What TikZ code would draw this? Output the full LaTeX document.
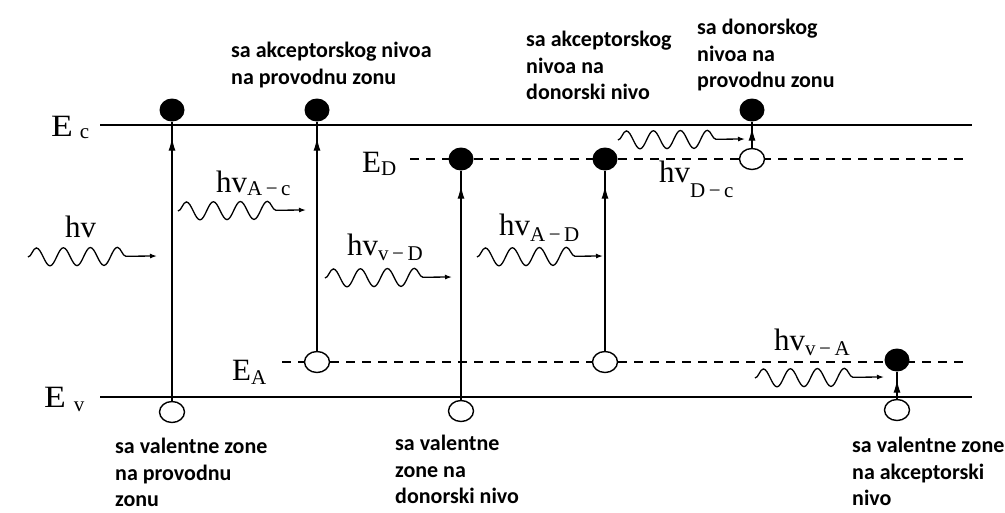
\documentclass[tikz,border=0pt]{standalone}
\usepackage{fontspec}
\setmainfont{Liberation Serif}
\newfontfamily\labfont{Carlito}
\usetikzlibrary{arrows.meta,decorations.pathmorphing,decorations.markings,shapes.geometric}
\begin{document}
\begin{tikzpicture}[x=1pt,y=-1pt,
  band/.style={line width=1.8pt},
  level/.style={line width=1.4pt, dash pattern=on 9pt off 7pt},
  elec/.style={ellipse, fill=black, minimum width=25pt, minimum height=23pt, inner sep=0pt},
  hole/.style={ellipse, draw=black, fill=white, line width=1.4pt, minimum width=25pt, minimum height=21pt, inner sep=0pt},
  trans/.style={line width=1.3pt, postaction={decorate}, decoration={markings, mark=at position #1 with {\arrow{Latex[length=13pt,width=7pt]}}}},
  photon/.style={line width=1.3pt, decorate, decoration={snake, segment length=27pt, amplitude=9pt, post length=18pt}, -{Latex[length=7pt,width=5pt]}},
  desc/.style={anchor=north west, inner sep=0pt, align=left, font=\labfont\bfseries\fontsize{22}{26.5}\selectfont},
  sym/.style={anchor=base west, inner sep=0pt, font=\fontsize{31}{31}\selectfont},
]
\useasboundingbox (0,0) rectangle (1005,512);

% band edges and levels
\coordinate (ecL) at (100,125); \coordinate (ecR) at (972,125);
\coordinate (evL) at (100,397); \coordinate (evR) at (972,397);
\coordinate (edL) at (410,159); \coordinate (edR) at (966,159);
\coordinate (eaL) at (282,362); \coordinate (eaR) at (967,362);
\draw[band] (ecL) -- (ecR);
\draw[band] (evL) -- (evR);
\draw[level] (edL) -- (edR);
\draw[level] (eaL) -- (eaR);

% level labels
\node[sym] (lEc) at (51,136) {\scalebox{1.15}[1]{E}\hspace{7pt}\raisebox{-2pt}{\fontsize{21}{21}\selectfont c}};
\node[sym] (lEv) at (44,407) {\scalebox{1.15}[1]{E}\hspace{8pt}\raisebox{-4pt}{\fontsize{21}{21}\selectfont v}};
\node[sym] (lED) at (362,172) {E\raisebox{-3pt}{\fontsize{21}{21}\selectfont D}};
\node[sym] (lEA) at (232,380) {E\raisebox{-4pt}{\fontsize{21}{21}\selectfont A}};

% electrons and holes
\node[elec] (f1) at (172,110) {};
\node[hole] (h1) at (172,412) {};
\node[elec] (f2) at (317,110) {};
\node[hole] (h2) at (317,362) {};
\node[elec] (f3) at (461,159) {};
\node[hole] (h3) at (461,411) {};
\node[elec] (f4) at (605,159) {};
\node[hole] (h4) at (605,362) {};
\node[elec] (f5) at (752,110) {};
\node[hole] (h5) at (752,159) {};
\node[elec] (f6) at (897,360) {};
\node[hole] (h6) at (897,410) {};

% transitions
\draw[trans=-16pt] (h1) -- (f1);
\draw[trans=-16pt] (h2) -- (f2);
\draw[trans=-15pt] (h3) -- (f3);
\draw[trans=-15pt] (h4) -- (f4);
\draw[trans=-6pt] (h5) -- (f5);
\draw[trans=-8pt] (h6) -- (f6);

% photons
\coordinate (p1s) at (28,257);  \coordinate (p1e) at (157,256);
\coordinate (p2s) at (178,211); \coordinate (p2e) at (306,210);
\coordinate (p3s) at (325,278); \coordinate (p3e) at (452,277);
\coordinate (p4s) at (477,257); \coordinate (p4e) at (603,256);
\coordinate (p5s) at (618,140); \coordinate (p5e) at (745,139);
\coordinate (p6s) at (755,378); \coordinate (p6e) at (884,377);
\draw[photon] (p1s) -- (p1e);
\draw[photon] (p2s) -- (p2e);
\draw[photon] (p3s) -- (p3e);
\draw[photon] (p4s) -- (p4e);
\draw[photon] (p5s) -- (p5e);
\draw[photon] (p6s) -- (p6e);

% photon labels
\node[sym] (l1) at (65,237) {hv};
\node[sym] (l2) at (216,192) {hv\raisebox{-3pt}{\fontsize{21}{21}\selectfont A\,−\,c}};
\node[sym] (l3) at (347,255) {hv\raisebox{-5pt}{\fontsize{21}{21}\selectfont v\,−\,D}};
\node[sym] (l4) at (499,235) {hv\raisebox{-6pt}{\fontsize{21}{21}\selectfont A\,−\,D}};
\node[sym] (l5) at (659,182) {hv\raisebox{-15pt}{\fontsize{21}{21}\selectfont D\,−\,c}};
\node[sym] (l6) at (774,350) {hv\raisebox{-5pt}{\fontsize{21}{21}\selectfont v\,−\,A}};

% descriptions
\node[desc] (t1) at (231,42) {sa akceptorskog nivoa\\na provodnu zonu};
\node[desc] (t2) at (526,31) {sa akceptorskog\\nivoa na\\donorski nivo};
\node[desc] (t3) at (697,19) {sa donorskog\\nivoa na\\provodnu zonu};
\node[desc] (t4) at (115,438) {sa valentne zone\\na provodnu\\zonu};
\node[desc] (t5) at (395,435) {sa valentne\\zone na\\donorski nivo};
\node[desc] (t6) at (852,437) {sa valentne zone\\na akceptorski\\nivo};
\end{tikzpicture}
\end{document}
